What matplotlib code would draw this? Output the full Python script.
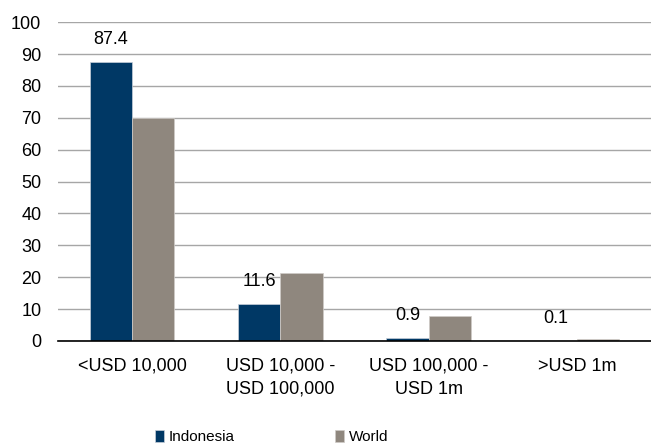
import numpy as np
import matplotlib
matplotlib.use("Agg")
import matplotlib.pyplot as plt

plt.rcParams['font.family'] = ['Liberation Sans', 'DejaVu Sans']

# data
categories = ['<USD 10,000', 'USD 10,000 -\nUSD 100,000', 'USD 100,000 -\nUSD 1m', '>USD 1m']
indonesia = [87.4, 11.6, 0.9, 0.1]
world = [69.8, 21.4, 7.7, 0.5]

navy = '#003865'
grey = '#8f877e'

fig = plt.figure(figsize=(6.51, 4.44), dpi=100)
ax = fig.add_axes([0.089, 0.232, 0.911, 0.718])

x = np.arange(len(categories))
w = 0.285
b1 = ax.bar(x - w / 2, indonesia, w, color=navy, edgecolor='#c8d0da', linewidth=0.5,
            label='Indonesia', zorder=3)
b2 = ax.bar(x + w / 2, world, w, color=grey, edgecolor='#d0ccc8', linewidth=0.5,
            label='World', zorder=3)

# labels above Indonesia bars
ax.bar_label(b1, labels=[str(v) for v in indonesia], padding=10, fontsize=13, zorder=4)

ax.set_xlim(-0.5, 3.5)
ax.set_ylim(0, 100)
ax.set_yticks(range(0, 101, 10))
ax.yaxis.grid(True, color='#a6a6a6', linewidth=1, zorder=0)
ax.set_axisbelow(True)
for s in ['top', 'right', 'left']:
    ax.spines[s].set_visible(False)
ax.spines['bottom'].set_color('black')
ax.spines['bottom'].set_linewidth(1.2)
ax.spines['bottom'].set_zorder(5)
ax.tick_params(axis='both', length=0, labelsize=13)
ax.tick_params(axis='y', pad=12)
ax.tick_params(axis='x', pad=12)
ax.set_xticks(x)
ax.set_xticklabels(categories, linespacing=1.45)

fig.legend(handles=[b1, b2], loc='center', bbox_to_anchor=(0.417, 0.016), ncol=2,
           frameon=False, fontsize=11, handlelength=0.6, handleheight=0.8,
           handletextpad=0.3, columnspacing=6.6)

fig.savefig('out.png', dpi=100)
